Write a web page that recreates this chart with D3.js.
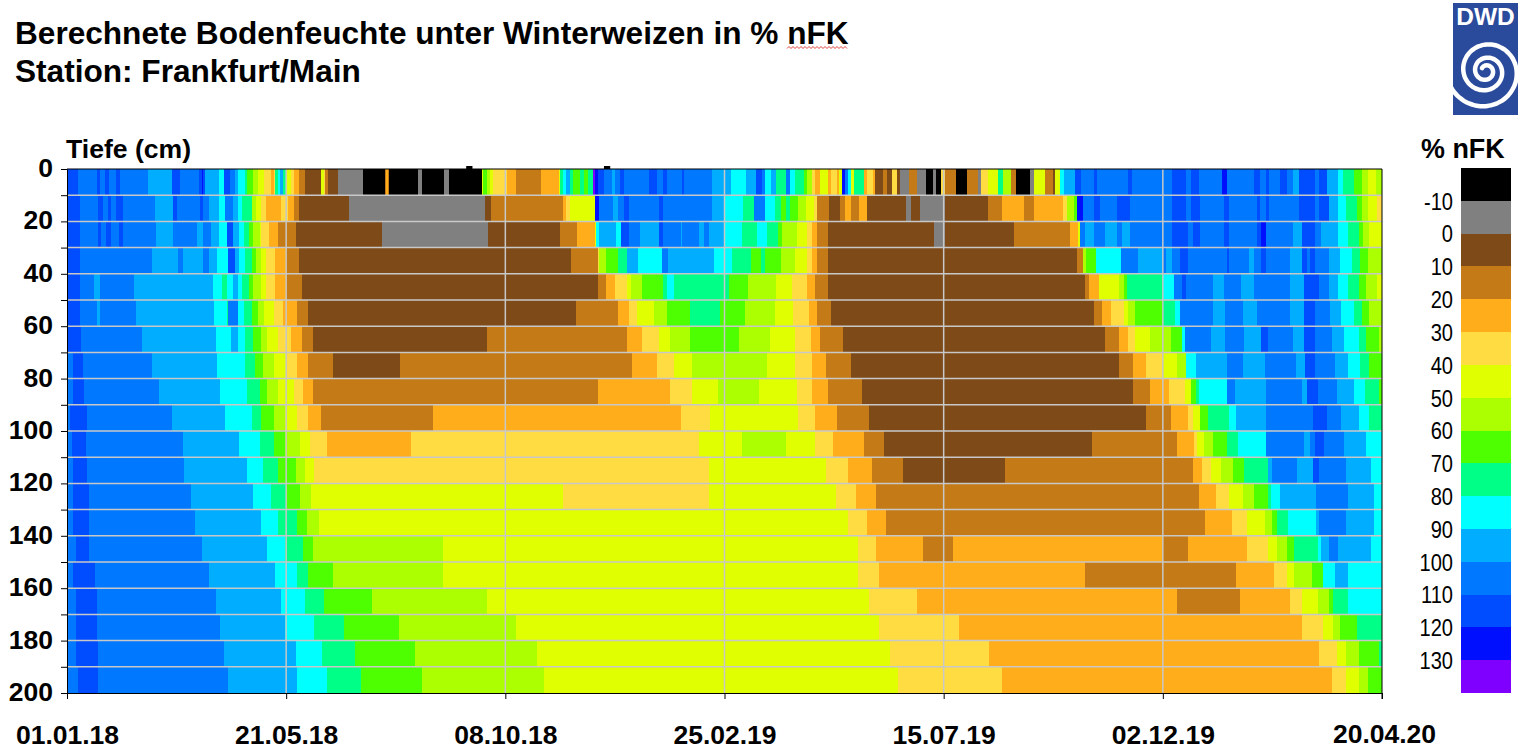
<!DOCTYPE html>
<html>
<head>
<meta charset="utf-8">
<script src="https://cdn.jsdelivr.net/npm/d3@7"></script>
<style>
  html, body { margin: 0; padding: 0; background: #fff; }
  text { font-family: "Liberation Sans", Arial, sans-serif; fill: #000; }
  .axis text { font-weight: bold; font-size: 26.5px; }
</style>
</head>
<body>
<div id="chart"></div>
<script>
// x axis: days since 01.01.18, one label every 140 days
var dayTicks = [0, 140, 280, 420, 560, 700, 840];
var dateLabels = ["01.01.18", "21.05.18", "08.10.18", "25.02.19", "15.07.19", "02.12.19", "20.04.20"];
var depthTicks = d3.range(0, 201, 10);

// legend classes of % nFK
var thresholds = [-10, 0, 10, 20, 30, 40, 50, 60, 70, 80, 90, 100, 110, 120, 130];
var classColors = ["#000000", "#808080", "#7d4a18", "#c47a16", "#ffad1a", "#ffdd42", "#e0ff00", "#abff00",
  "#4dff00", "#00ff87", "#00ffff", "#00adff", "#0078ff", "#004dff", "#0010ff", "#8000ff"];

// each layer: [last day of the run, % nFK]
var depth10 = [[7,115],[19,105],[21,115],[24,105],[27,115],[31,105],[34,115],[52,105],[67,95],[72,115],[84,105],[86,115],[87,125],[88,115],[97,95],[100,85],[104,115],[107,105],[109,95],[114,85],[115,75],[119,65],[122,55],[126,45],[130,35],[132,25],[133,35],[135,75],[136,85],[138,95],[140,75],[143,45],[145,35],[148,25],[152,15],[162,5],[164,45],[165,35],[167,15],[173,5],[189,-5],[203,-15],[204,15],[205,25],[206,15],[224,-15],[227,-5],[241,-15],[244,-5],[265,-15],[266,45],[268,65],[270,55],[272,45],[281,35],[287,25],[303,15],[314,25],[315,45],[317,75],[319,85],[321,95],[323,75],[328,65],[330,75],[333,65],[336,75],[337,135],[339,125],[343,115],[348,105],[350,95],[353,105],[356,115],[372,105],[377,115],[381,105],[383,115],[393,105],[394,115],[412,105],[424,95],[434,85],[440,95],[444,115],[446,105],[450,85],[453,95],[459,75],[462,105],[465,85],[471,75],[473,65],[476,55],[478,35],[481,25],[486,45],[488,25],[492,35],[493,25],[495,45],[497,125],[499,105],[501,85],[503,45],[509,75],[511,25],[515,35],[516,25],[521,5],[524,15],[527,5],[530,35],[532,5],[538,-5],[543,15],[549,-5],[553,-15],[555,-5],[558,-15],[561,35],[568,15],[575,-15],[582,15],[584,-5],[588,35],[595,45],[598,75],[603,55],[606,15],[615,-15],[618,-5],[625,45],[630,15],[631,5],[634,45],[637,85],[644,95],[648,115],[656,105],[658,115],[678,105],[680,115],[706,105],[715,115],[718,105],[723,115],[738,105],[741,125],[758,105],[762,115],[766,105],[768,115],[775,105],[779,115],[783,105],[787,95],[797,115],[800,105],[805,115],[812,95],[815,85],[822,75],[827,65],[831,55],[836,45],[840,55]];
var depth20 = [[8,115],[20,105],[23,115],[26,105],[28,115],[31,105],[36,115],[56,105],[68,95],[70,115],[85,105],[87,115],[91,105],[97,95],[101,85],[106,105],[109,95],[112,85],[118,75],[121,55],[124,45],[127,35],[137,25],[141,35],[145,25],[148,15],[180,5],[267,-5],[271,5],[317,15],[319,25],[321,35],[337,45],[340,125],[349,105],[352,95],[356,105],[359,115],[378,105],[381,115],[412,105],[420,95],[432,85],[439,75],[446,105],[452,85],[456,75],[459,65],[462,75],[467,65],[472,55],[477,45],[479,35],[487,15],[494,5],[497,15],[501,25],[506,15],[511,25],[536,5],[539,-5],[545,5],[561,-5],[588,5],[597,15],[611,25],[618,15],[636,25],[639,35],[643,55],[645,65],[649,125],[656,105],[660,115],[671,105],[679,115],[706,105],[715,115],[718,105],[724,115],[739,105],[742,115],[760,105],[762,115],[766,105],[768,115],[787,105],[797,115],[800,105],[806,115],[812,95],[817,85],[824,75],[827,65],[831,55],[837,45],[840,35]];
var depth30 = [[8,115],[20,105],[22,115],[25,105],[28,115],[33,105],[36,115],[57,105],[68,95],[83,105],[87,95],[92,105],[97,95],[102,85],[106,115],[110,95],[113,85],[116,75],[119,65],[123,55],[124,45],[129,35],[135,25],[146,15],[201,5],[269,-5],[315,5],[326,15],[337,25],[338,45],[340,85],[351,95],[354,85],[359,115],[366,105],[378,95],[381,115],[392,105],[393,95],[404,105],[407,95],[410,105],[420,95],[431,85],[441,75],[447,85],[454,75],[457,65],[466,55],[473,45],[476,35],[479,25],[486,15],[554,5],[561,-5],[605,5],[641,15],[646,25],[647,45],[650,105],[656,95],[663,105],[671,95],[674,105],[679,95],[706,105],[716,115],[719,105],[724,115],[739,105],[742,115],[760,105],[763,115],[766,125],[783,105],[789,95],[797,115],[801,105],[812,95],[818,85],[825,75],[828,65],[832,55],[840,45]];
var depth40 = [[8,115],[54,105],[71,95],[74,105],[87,95],[91,105],[96,95],[103,85],[107,115],[110,95],[114,85],[118,75],[121,65],[124,55],[127,45],[133,35],[140,25],[148,15],[322,5],[339,15],[340,35],[344,55],[352,65],[358,75],[365,95],[380,85],[384,105],[413,95],[425,85],[437,75],[443,65],[446,75],[456,65],[465,55],[473,45],[476,35],[479,25],[486,15],[645,5],[649,15],[651,55],[657,65],[673,85],[684,105],[700,95],[702,105],[706,95],[711,105],[716,115],[741,105],[742,115],[755,105],[758,95],[763,105],[766,115],[781,105],[789,95],[792,115],[794,105],[797,115],[806,105],[813,95],[821,85],[826,75],[831,65],[840,55]];
var depth50 = [[8,115],[17,105],[21,95],[43,105],[93,95],[99,85],[102,75],[106,85],[109,95],[112,85],[116,75],[119,65],[124,55],[127,45],[133,35],[140,25],[150,15],[339,5],[344,15],[350,25],[358,35],[360,45],[367,55],[381,65],[383,75],[388,85],[423,75],[435,65],[453,55],[463,45],[473,35],[478,25],[486,15],[650,5],[653,15],[659,25],[672,45],[675,55],[677,65],[700,75],[707,85],[712,105],[715,115],[732,105],[739,95],[750,105],[758,95],[781,105],[790,95],[800,115],[806,105],[812,95],[818,85],[825,75],[830,65],[837,55],[840,45]];
var depth60 = [[8,115],[19,105],[21,95],[44,105],[94,95],[102,85],[103,75],[109,105],[113,85],[118,75],[122,65],[126,55],[132,45],[138,35],[147,25],[154,15],[325,5],[352,15],[359,25],[364,35],[375,45],[383,55],[398,65],[417,75],[433,65],[452,55],[464,45],[474,35],[479,25],[488,15],[656,5],[661,15],[667,25],[675,35],[678,45],[682,55],[700,65],[708,75],[711,85],[732,105],[740,95],[751,105],[760,95],[781,105],[790,95],[797,115],[807,105],[814,95],[822,85],[827,75],[832,65],[840,55]];
var depth70 = [[9,115],[48,105],[95,95],[105,85],[109,95],[114,85],[119,75],[124,65],[128,55],[135,45],[143,35],[150,25],[157,15],[268,5],[358,15],[367,25],[378,35],[385,45],[398,55],[429,65],[449,55],[465,45],[475,35],[481,25],[496,15],[663,5],[672,15],[678,25],[682,35],[692,45],[700,55],[705,55],[712,65],[714,85],[731,105],[740,95],[752,105],[763,95],[767,115],[783,105],[790,95],[797,115],[808,105],[816,95],[825,85],[830,75],[838,65],[840,55]];
var depth80 = [[4,105],[10,115],[54,105],[96,95],[114,85],[120,75],[125,65],[132,55],[140,45],[147,35],[154,25],[170,15],[213,5],[361,15],[377,25],[388,35],[399,45],[447,55],[465,45],[476,35],[485,25],[501,15],[672,5],[681,15],[689,25],[700,35],[709,45],[715,55],[721,85],[741,95],[751,105],[765,95],[785,105],[791,95],[797,115],[810,105],[818,95],[826,85],[832,75],[840,65]];
var depth90 = [[4,105],[11,115],[59,105],[98,95],[115,85],[123,75],[128,65],[135,55],[145,45],[151,35],[157,25],[339,15],[385,25],[399,35],[416,45],[442,55],[466,45],[476,35],[486,25],[508,15],[681,5],[692,15],[704,25],[714,35],[718,45],[721,65],[723,75],[741,85],[746,105],[766,95],[789,105],[792,95],[799,115],[811,105],[822,95],[829,85],[838,75],[840,65]];
var depth100 = [[2,105],[13,115],[67,105],[101,95],[118,85],[124,75],[132,65],[139,55],[147,45],[154,35],[162,25],[234,15],[392,25],[411,35],[467,45],[478,35],[492,25],[512,15],[689,5],[705,15],[716,25],[719,35],[724,45],[729,65],[742,75],[747,85],[766,95],[796,105],[805,115],[814,105],[825,95],[832,85],[840,75]];
var depth110 = [[3,105],[12,115],[74,105],[110,95],[123,85],[132,75],[139,65],[149,55],[155,45],[166,35],[220,25],[404,35],[431,45],[459,55],[478,45],[489,35],[509,25],[522,15],[655,5],[709,15],[720,25],[722,35],[726,45],[732,55],[741,65],[748,75],[766,85],[790,105],[794,95],[797,105],[803,115],[816,105],[830,95],[840,85]];
var depth120 = [[4,105],[13,115],[75,105],[115,95],[125,85],[135,75],[146,65],[152,55],[158,45],[410,35],[485,45],[499,35],[514,25],[534,15],[599,5],[719,15],[725,25],[731,35],[737,45],[745,55],[752,65],[767,75],[770,95],[786,105],[796,95],[800,115],[817,105],[833,95],[840,85]];
var depth130 = [[4,105],[14,115],[79,105],[119,95],[130,85],[140,75],[149,65],[156,55],[317,45],[410,35],[491,45],[504,35],[517,25],[723,15],[734,25],[742,35],[751,45],[758,55],[767,65],[769,75],[775,85],[798,95],[818,105],[835,95],[840,85]];
var depth140 = [[4,105],[14,115],[82,105],[124,95],[135,85],[147,75],[153,65],[161,55],[499,45],[511,35],[523,25],[727,15],[744,25],[754,35],[765,45],[770,55],[773,65],[780,75],[798,85],[800,95],[817,105],[835,95],[840,85]];
var depth150 = [[6,105],[14,115],[86,105],[128,95],[139,85],[151,75],[157,65],[240,55],[505,45],[517,35],[547,25],[566,15],[700,25],[716,15],[754,25],[767,35],[773,45],[779,55],[784,65],[799,75],[801,85],[806,95],[812,105],[833,95],[840,85]];
var depth160 = [[4,105],[18,115],[91,105],[133,95],[147,85],[154,75],[170,65],[240,55],[505,45],[519,35],[650,25],[747,15],[771,25],[779,35],[784,45],[795,55],[802,65],[810,85],[818,95],[840,85]];
var depth170 = [[6,105],[19,115],[95,105],[137,95],[152,85],[164,75],[195,65],[268,55],[512,45],[543,35],[709,25],[749,15],[781,25],[789,35],[799,45],[806,55],[809,65],[818,75],[840,85]];
var depth180 = [[6,105],[19,115],[98,105],[139,95],[158,85],[177,75],[212,65],[287,55],[519,45],[570,35],[789,25],[802,35],[809,45],[813,55],[824,65],[840,75]];
var depth190 = [[6,105],[20,115],[100,105],[146,95],[163,85],[184,75],[222,65],[300,55],[526,45],[589,35],[800,25],[811,35],[817,45],[825,55],[838,65],[840,75]];
var depth200 = [[7,105],[20,115],[103,105],[147,95],[166,85],[188,75],[227,65],[305,55],[531,45],[597,35],[808,25],[817,35],[825,45],[831,55],[840,65]];

var layers = [depth10, depth20, depth30, depth40, depth50, depth60, depth70, depth80, depth90, depth100,
  depth110, depth120, depth130, depth140, depth150, depth160, depth170, depth180, depth190, depth200];

// two small stubs that stick out above the top axis: [from day, to day]
var topStubs = [[255, 259], [343, 347]];

var svgWidth = 1525;
var svgHeight = 749;
var margin = { top: 169, bottom: 56, right: 143, left: 67 };

var svg = d3.select("#chart").append("svg")
  .attr("width", svgWidth)
  .attr("height", svgHeight)
  .style("display", "block");

var xScale = d3.scaleLinear().domain([0, 840]).range([margin.left, svgWidth - margin.right]);
var yScale = d3.scaleLinear().domain([0, 200]).range([margin.top, svgHeight - margin.bottom]);
var colorScale = d3.scaleThreshold().domain(thresholds).range(classColors);

// titles
svg.append("text").attr("x", 15).attr("y", 44)
  .style("font-weight", "bold").style("font-size", "31.6px")
  .text("Berechnete Bodenfeuchte unter Winterweizen in % nFK");
svg.append("text").attr("x", 15).attr("y", 82)
  .style("font-weight", "bold").style("font-size", "31.6px")
  .text("Station: Frankfurt/Main");
svg.append("text").attr("x", 66).attr("y", 158)
  .style("font-weight", "bold").style("font-size", "26.6px")
  .text("Tiefe (cm)");
svg.append("text").attr("x", 1421).attr("y", 158)
  .style("font-weight", "bold").style("font-size", "26.9px")
  .text("% nFK");

// red spell check line under nFK
var squiggle = d3.range(787, 849, 2).map(function(x, i) { return [x, i % 2 ? 46.5 : 48.5]; });
svg.append("path")
  .attr("d", d3.line()(squiggle))
  .attr("fill", "none")
  .attr("stroke", "#e2433c")
  .attr("stroke-width", 1);

// the depth/time cells, one row per 10 cm layer
var rows = svg.append("g").selectAll("g")
  .data(layers)
  .enter()
  .append("g");

rows.selectAll("rect")
  .data(function(layer, i) {
    return layer.map(function(run, j) {
      return {
        from: j === 0 ? 0 : layer[j - 1][0],
        to: run[0],
        value: run[1],
        top: depthTicks[i],
        bottom: depthTicks[i + 1]
      };
    });
  })
  .enter()
  .append("rect")
  .attr("x", d => xScale(d.from))
  .attr("y", d => yScale(d.top))
  .attr("width", d => xScale(d.to) - xScale(d.from))
  .attr("height", d => yScale(d.bottom) - yScale(d.top))
  .attr("fill", d => colorScale(d.value))
  .attr("shape-rendering", "crispEdges");

// light grid over the cells
svg.append("g").selectAll("line")
  .data(depthTicks.slice(1, -1))
  .enter()
  .append("line")
  .attr("x1", xScale(0)).attr("x2", xScale(840))
  .attr("y1", d => yScale(d)).attr("y2", d => yScale(d))
  .attr("stroke", "#c8c8c8").attr("stroke-width", 1.5);

svg.append("g").selectAll("line")
  .data(dayTicks.slice(1, -1))
  .enter()
  .append("line")
  .attr("x1", d => xScale(d)).attr("x2", d => xScale(d))
  .attr("y1", yScale(0)).attr("y2", yScale(200))
  .attr("stroke", "#c8c8c8").attr("stroke-width", 1.5);

// axes
var bottomAxis = d3.axisBottom(xScale)
  .tickValues(dayTicks)
  .tickFormat(function(d, i) { return dateLabels[i]; })
  .tickSize(6)
  .tickPadding(26)
  .tickSizeOuter(0);
var xAxis = svg.append("g")
  .attr("class", "axis")
  .attr("transform", `translate(0, ${yScale(200)})`)
  .call(bottomAxis);
xAxis.selectAll(".tick:last-of-type text").attr("dy", "0.67em").attr("dx", 2);

var leftAxis = d3.axisLeft(yScale)
  .tickValues(depthTicks)
  .tickFormat(function(d) { return d % 20 === 0 ? d : ""; })
  .tickSize(6)
  .tickPadding(8)
  .tickSizeOuter(0);
var yAxis = svg.append("g")
  .attr("class", "axis")
  .attr("transform", `translate(${xScale(0)}, 0)`)
  .call(leftAxis);
yAxis.selectAll("text").attr("dy", "0.28em");

// top and right border
svg.append("line")
  .attr("x1", xScale(0)).attr("x2", xScale(840))
  .attr("y1", yScale(0)).attr("y2", yScale(0))
  .attr("stroke", "#000").attr("stroke-width", 1);
svg.append("line")
  .attr("x1", xScale(840)).attr("x2", xScale(840))
  .attr("y1", yScale(0)).attr("y2", yScale(200) + 6)
  .attr("stroke", "#000").attr("stroke-width", 1);

svg.append("g").selectAll("rect")
  .data(topStubs)
  .enter()
  .append("rect")
  .attr("x", d => xScale(d[0]))
  .attr("width", d => xScale(d[1]) - xScale(d[0]))
  .attr("y", yScale(0) - 3)
  .attr("height", 3)
  .attr("fill", "#000");

// legend: colour bar with labels on the class borders
var legendScale = d3.scaleBand()
  .domain(d3.range(classColors.length))
  .range([yScale(0) - 1, yScale(200)]);

svg.append("g").selectAll("rect")
  .data(classColors)
  .enter()
  .append("rect")
  .attr("x", 1461)
  .attr("width", 50)
  .attr("y", (d, i) => legendScale(i))
  .attr("height", legendScale.bandwidth())
  .attr("fill", d => d)
  .attr("shape-rendering", "crispEdges");

svg.append("g").selectAll("text")
  .data(thresholds)
  .enter()
  .append("text")
  .attr("transform", (d, i) => `translate(1453, ${legendScale(i + 1)}) scale(0.82, 1)`)
  .attr("text-anchor", "end")
  .attr("dy", "0.36em")
  .style("font-size", "24.5px")
  .text(d => d);

// DWD logo
var logo = svg.append("g");
logo.append("clipPath").attr("id", "logoClip")
  .append("rect").attr("x", 1453).attr("y", 3).attr("width", 65).attr("height", 112);
logo.append("rect")
  .attr("x", 1453).attr("y", 3).attr("width", 65).attr("height", 112)
  .attr("fill", "#2a4a9b");
logo.append("text")
  .attr("x", 1485.5).attr("y", 25)
  .attr("text-anchor", "middle")
  .style("font-weight", "bold").style("font-size", "24.5px")
  .style("fill", "#fff")
  .text("DWD");
var spiral = d3.range(-2.5, 15.6, 0.1).map(function(t) {
  var r = 7 + t + 0.07 * t * t;
  return [1486 + r * Math.cos(t), 71 + r * Math.sin(t)];
});
logo.append("path")
  .attr("d", d3.line().curve(d3.curveCatmullRom)(spiral))
  .attr("clip-path", "url(#logoClip)")
  .attr("fill", "none")
  .attr("stroke", "#fff")
  .attr("stroke-width", 4.5)
  .attr("stroke-linecap", "round");
</script>
</body>
</html>
